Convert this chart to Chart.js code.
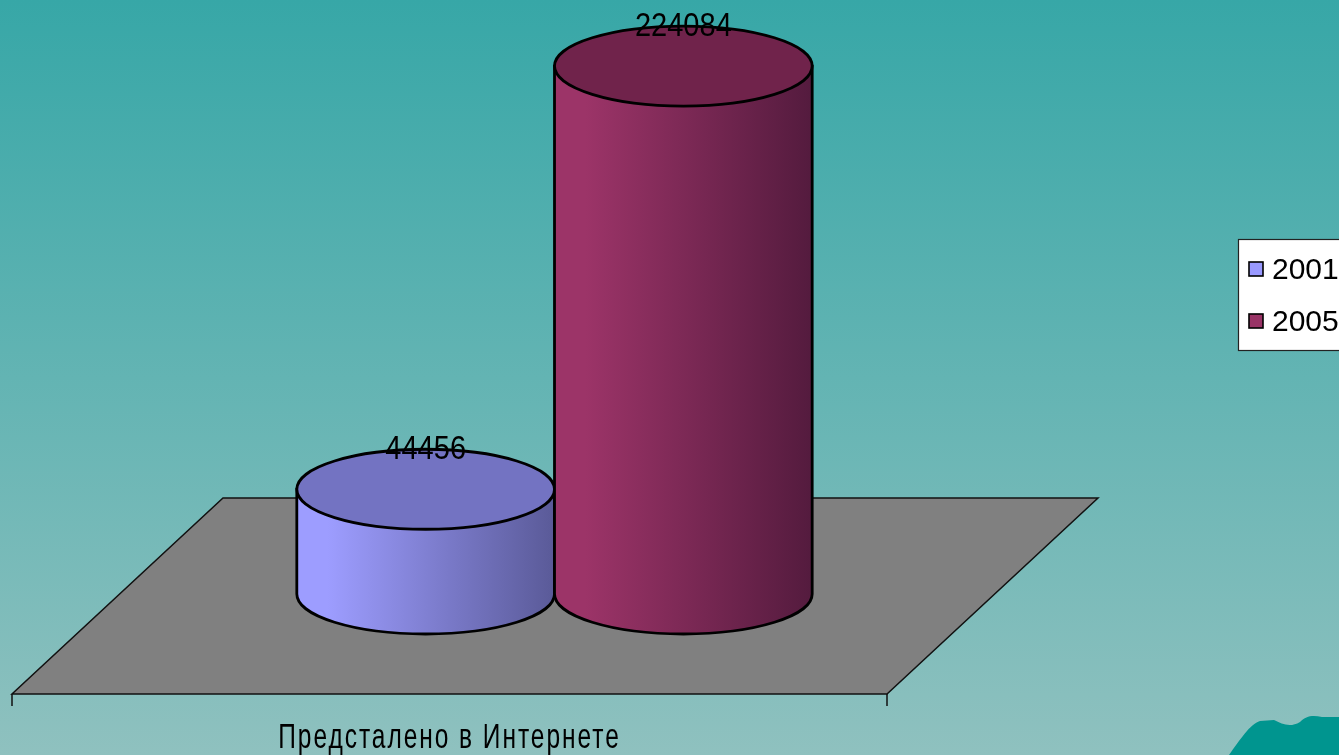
<!DOCTYPE html>
<html>
<head>
<meta charset="utf-8">
<script src="https://cdn.jsdelivr.net/npm/chart.js@4/dist/chart.umd.min.js"></script>
<style>
  html, body { margin: 0; padding: 0; overflow: hidden; }
  #wrap { width: 1339px; height: 755px; }
</style>
</head>
<body>
<div id="wrap"><canvas id="myChart" width="1339" height="755"></canvas></div>
<script>
// data
var categories = ['Предсталено в Интернете'];
var seriesNames = ['2001', '2005'];
var values2001 = [44456];
var values2005 = [224084];

var sideColors = [['#9d9dff', '#5a5a98'], ['#9c3468', '#541b3e']];
var topColors = ['#7373c2', '#70234b'];

// 3d look: depth of the floor and where the cylinders sit on it
var DEPTH_X = 211, DEPTH_Y = -196;
var SHIFT_X = 105, SHIFT_Y = -100;
var RY = 40;

// the slide font is a narrow one, squeeze Liberation Sans to get close
function narrowText(c, text, x, y, squeeze, spacing) {
    c.save();
    c.translate(x, y);
    c.scale(squeeze, 1);
    if (spacing) c.letterSpacing = spacing;
    c.fillText(text, 0, 0);
    c.restore();
}

var backdrop = {
    id: 'backdrop',
    beforeDraw: function (chart) {
        var c = chart.ctx, w = chart.width, h = chart.height;
        var g = c.createLinearGradient(0, 0, 0, h);
        g.addColorStop(0, '#37a7a7');
        g.addColorStop(1, '#8fc1bf');
        c.save();
        c.fillStyle = g;
        c.fillRect(0, 0, w, h);
        // little wave in the corner of the slide
        c.fillStyle = '#00958f';
        c.beginPath();
        c.moveTo(1229, 755);
        c.bezierCurveTo(1240, 740, 1250, 724, 1260, 721);
        c.lineTo(1274, 720);
        c.bezierCurveTo(1282, 724, 1290, 728, 1300, 722);
        c.bezierCurveTo(1306, 716, 1312, 715, 1322, 717);
        c.lineTo(1339, 717);
        c.lineTo(1339, 755);
        c.closePath();
        c.fill();
        c.restore();
    }
};

function drawCylinder(c, cx, topY, botY, rx, side, top) {
    var g = c.createLinearGradient(cx - rx, 0, cx + rx, 0);
    g.addColorStop(0, side[0]);
    g.addColorStop(0.12, side[0]);
    g.addColorStop(1, side[1]);
    c.beginPath();
    c.moveTo(cx - rx, topY);
    c.lineTo(cx - rx, botY);
    c.ellipse(cx, botY, rx, RY, 0, Math.PI, 0, true);
    c.lineTo(cx + rx, topY);
    c.closePath();
    c.fillStyle = g;
    c.fill();
    c.lineWidth = 2.8;
    c.strokeStyle = '#000';
    c.stroke();
    c.beginPath();
    c.ellipse(cx, topY, rx, RY, 0, 0, Math.PI * 2);
    c.fillStyle = top;
    c.fill();
    c.stroke();
}

var cylinders = {
    id: 'cylinders',
    beforeDatasetsDraw: function (chart) {
        var c = chart.ctx, a = chart.chartArea;
        c.save();
        // floor
        c.beginPath();
        c.moveTo(a.left, a.bottom);
        c.lineTo(a.right, a.bottom);
        c.lineTo(a.right + DEPTH_X, a.bottom + DEPTH_Y);
        c.lineTo(a.left + DEPTH_X, a.bottom + DEPTH_Y);
        c.closePath();
        c.fillStyle = '#808080';
        c.fill();
        c.lineWidth = 1.5;
        c.strokeStyle = '#111';
        c.stroke();
        c.beginPath();
        c.moveTo(a.left, a.bottom);
        c.lineTo(a.left, a.bottom + 12);
        c.moveTo(a.right, a.bottom);
        c.lineTo(a.right, a.bottom + 12);
        c.stroke();

        chart.data.datasets.forEach(function (ds, i) {
            var meta = chart.getDatasetMeta(i);
            meta.data.forEach(function (bar, j) {
                var p = bar.getProps(['x', 'y', 'base', 'width'], true);
                var cx = p.x + SHIFT_X;
                var topY = p.y + SHIFT_Y;
                var botY = p.base + SHIFT_Y;
                drawCylinder(c, cx, topY, botY, p.width / 2, sideColors[i], topColors[i]);
            });
        });
        // value labels
        c.fillStyle = '#000';
        c.font = '33px "Liberation Sans", Arial, sans-serif';
        c.textAlign = 'center';
        c.textBaseline = 'middle';
        chart.data.datasets.forEach(function (ds, i) {
            var meta = chart.getDatasetMeta(i);
            meta.data.forEach(function (bar, j) {
                var p = bar.getProps(['x', 'y'], true);
                narrowText(c, String(ds.data[j]), p.x + SHIFT_X, p.y + SHIFT_Y - RY + 1, 0.88);
            });
        });
        c.restore();
        return false;
    },
    afterDraw: function (chart) {
        var c = chart.ctx, a = chart.chartArea, xs = chart.scales.x;
        c.save();
        // category label under the floor
        c.fillStyle = '#000';
        c.font = '35px "Liberation Sans", Arial, sans-serif';
        c.textAlign = 'center';
        c.textBaseline = 'middle';
        chart.data.labels.forEach(function (lab, k) {
            narrowText(c, lab, xs.getPixelForTick(k), a.bottom + 44, 0.7, '2.8px');
        });
        // legend box
        c.fillStyle = '#fff';
        c.fillRect(1238, 239, 110, 111);
        c.lineWidth = 1.2;
        c.strokeStyle = '#222';
        c.strokeRect(1238.5, 239.5, 110, 111);
        c.font = '30px "Liberation Sans", Arial, sans-serif';
        c.textAlign = 'left';
        chart.data.datasets.forEach(function (ds, i) {
            var y = 271 + i * 52;
            c.fillStyle = ds.backgroundColor;
            c.fillRect(1249, y - 9, 14, 14);
            c.strokeStyle = '#000';
            c.lineWidth = 1.6;
            c.strokeRect(1249, y - 9, 14, 14);
            c.fillStyle = '#000';
            c.fillText(ds.label, 1272, y);
        });
        c.restore();
    }
};

var ctx = document.getElementById('myChart').getContext('2d');
var myChart = new Chart(ctx, {
    type: 'bar',
    data: {
        labels: categories,
        datasets: [
            { label: seriesNames[0], data: values2001, backgroundColor: '#9999ff' },
            { label: seriesNames[1], data: values2005, backgroundColor: '#993366' }
        ]
    },
    options: {
        responsive: false,
        animation: false,
        events: [],
        categoryPercentage: 0.589,
        barPercentage: 1,
        layout: { padding: { left: 12, right: 452, top: 105, bottom: 61 } },
        plugins: {
            legend: { display: false },
            tooltip: { enabled: false }
        },
        scales: {
            x: { display: false },
            y: { display: false, beginAtZero: true, min: 0, max: 250000 }
        }
    },
    plugins: [backdrop, cylinders]
});
</script>
</body>
</html>
